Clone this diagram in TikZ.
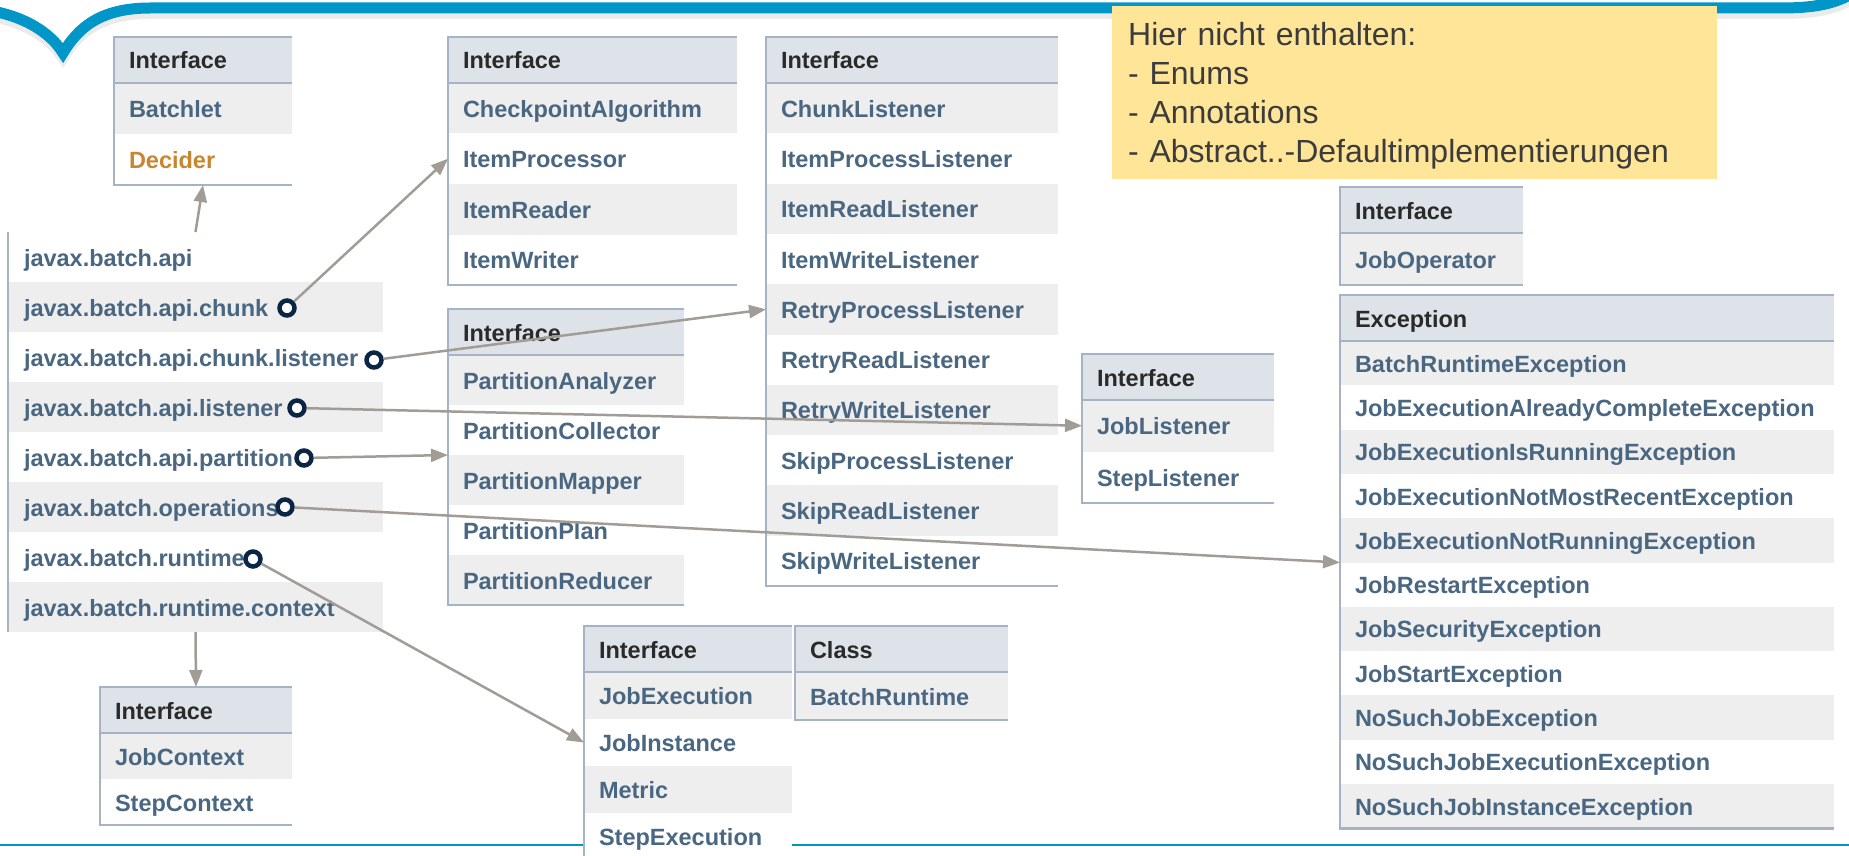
\documentclass[tikz,border=0pt]{standalone}
\usepackage{fontspec}
\setmainfont{Liberation Sans}
\usetikzlibrary{arrows.meta}
\definecolor{hdrfill}{HTML}{DEE3E9}
\definecolor{rowc1}{HTML}{EEEEEF}
\definecolor{rowc0}{HTML}{FFFFFF}
\definecolor{bordc}{HTML}{A5B3C5}
\definecolor{linkc}{HTML}{4A6782}
\definecolor{hdrtxt}{HTML}{2A2A2A}
\definecolor{decc}{HTML}{C8862E}
\definecolor{arrc}{HTML}{A29C96}
\definecolor{navy}{HTML}{0B2545}
\definecolor{bandc}{HTML}{0096C8}
\definecolor{notefill}{HTML}{FFE597}
\definecolor{notetxt}{HTML}{3C3C3C}
\tikzset{
  cell/.style={anchor=north west, inner xsep=15pt, inner ysep=0pt, outer sep=0pt, align=left,
    text height=21pt, text depth=3pt, font=\bfseries\fontsize{23.5}{28}\selectfont},
  hdr/.style={cell, fill=hdrfill, text=hdrtxt, minimum height=46pt},
  entry/.style={cell, text=linkc},
  bord/.style={draw=bordc, line width=2.5pt},
  arr/.style={draw=arrc, line width=2.5pt, -{Triangle[length=17pt,width=13pt]}},
  pin/.style={circle, draw=navy, line width=4.5pt, fill=white, minimum size=15pt, inner sep=0pt},
  notebox/.style={anchor=north west, fill=notefill, text=notetxt, minimum width=605pt,
    minimum height=173pt, text width=573pt, inner xsep=16pt, inner ysep=0pt, align=left,
    font=\fontsize{32}{39}\selectfont},
  band/.style={draw=bandc, line width=11pt, line join=miter, miter limit=10},
  bandshadow/.style={draw=black, line width=10pt, opacity=0.08, line join=miter, miter limit=10}
}
\newcommand\jbox[8]{%
  \pgfmathsetmacro\jtw{#4-30}%
  \node[hdr, minimum width=#4pt, text width=\jtw pt] (#1) at (#2,#3) {#6};
  \foreach \ent [count=\i] in {#7}{%
    \ifodd\i\def\rc{rowc1}\else\def\rc{rowc0}\fi
    \node[entry, fill=\rc, minimum width=#4pt, minimum height=#5pt, text width=\jtw pt]
      (#1-\i) at (#2,{#3+46+#5*(\i-1)}) {\ent};
  }
  \draw[bord] (#1.north east) -- (#1.north west) -- (#1-#8.south west) -- (#1-#8.south east);
  \draw[bord] (#1.south west) -- (#1.south east);
}
\newcommand\bandpath{(-3,12) .. controls (25,18) and (50,32) .. (63,53) .. controls (78,28) and (100,8) .. (150,8) -- (1780,8) .. controls (1815,8) and (1835,4) .. (1855,-8)}
\begin{document}
\begin{tikzpicture}[x=1pt,y=-1pt]
\useasboundingbox (0,0) rectangle (1849,856);
% frame lines
\draw[bandc, line width=2.5pt] (0,845) -- (1849,845);
\draw[bandshadow, shift={(0,6)}] \bandpath;
\draw[band] \bandpath;
% package list
\foreach \ent [count=\i] in {javax.batch.api, javax.batch.api.chunk, javax.batch.api.chunk.listener,
  javax.batch.api.listener, javax.batch.api.partition, javax.batch.operations,
  javax.batch.runtime, javax.batch.runtime.context}{%
  \ifodd\i\def\rc{rowc0}\else\def\rc{rowc1}\fi
  \node[entry, fill=\rc, inner xsep=16pt, minimum width=375pt, minimum height=50pt, text width=343pt]
    (pk-\i) at (8,{232+50*(\i-1)}) {\ent};
}
\draw[bord] (pk-1.north west) -- (pk-8.south west);
% boxes
\jbox{bl}{114}{37}{178}{51}{Interface}{Batchlet,{\color{decc}Decider}}{2}
\jbox{cp}{448}{37}{289}{50.5}{Interface}{CheckpointAlgorithm,ItemProcessor,ItemReader,ItemWriter}{4}
\jbox{cl}{766}{37}{292}{50.3}{Interface}{ChunkListener,ItemProcessListener,ItemReadListener,ItemWriteListener,RetryProcessListener,RetryReadListener,RetryWriteListener,SkipProcessListener,SkipReadListener,SkipWriteListener}{10}
\jbox{pt}{448}{309}{236}{50}{Interface}{PartitionAnalyzer,PartitionCollector,PartitionMapper,PartitionPlan,PartitionReducer}{5}
\jbox{jl}{1082}{354}{192}{51.5}{Interface}{JobListener,StepListener}{2}
\jbox{jo}{1340}{187}{183}{52}{Interface}{JobOperator}{1}
\jbox{ex}{1340}{295}{494}{44.3}{Exception}{BatchRuntimeException,JobExecutionAlreadyCompleteException,JobExecutionIsRunningException,JobExecutionNotMostRecentException,JobExecutionNotRunningException,JobRestartException,JobSecurityException,JobStartException,NoSuchJobException,NoSuchJobExecutionException,NoSuchJobInstanceException}{11}
\jbox{jc}{100}{687}{192}{46}{Interface}{JobContext,StepContext}{2}
\jbox{je}{584}{626}{208}{47}{Interface}{JobExecution,JobInstance,Metric,StepExecution}{4}
\jbox{cs}{795}{626}{213}{48}{Class}{BatchRuntime}{1}
% pins
\node[pin] (c1) at (287,308) {};
\node[pin] (c2) at (374,360) {};
\node[pin] (c3) at (297,408) {};
\node[pin] (c4) at (304,458) {};
\node[pin] (c5) at (285,507) {};
\node[pin] (c6) at (253,559) {};
% arrows
\draw[arr] (pk-1.north) -- (bl-2.south);
\draw[arr] (c1) -- (cp-2.west);
\draw[arr] (c2) -- (cl-5.west);
\draw[arr] (c3) -- (jl-1.west);
\draw[arr] (c4) -- (pt-2.south west);
\draw[arr] (c5) -- (ex-5.south west);
\draw[arr] (c6) -- (je-2.west);
\draw[arr] (pk-8.south) -- (jc.north);
% note
\node[notebox] (note) at (1112,6) {\rule{0pt}{30pt}Hier nicht enthalten:\\- Enums\\- Annotations\\- Abstract..-Defaultimplementierungen};
\end{tikzpicture}
\end{document}
